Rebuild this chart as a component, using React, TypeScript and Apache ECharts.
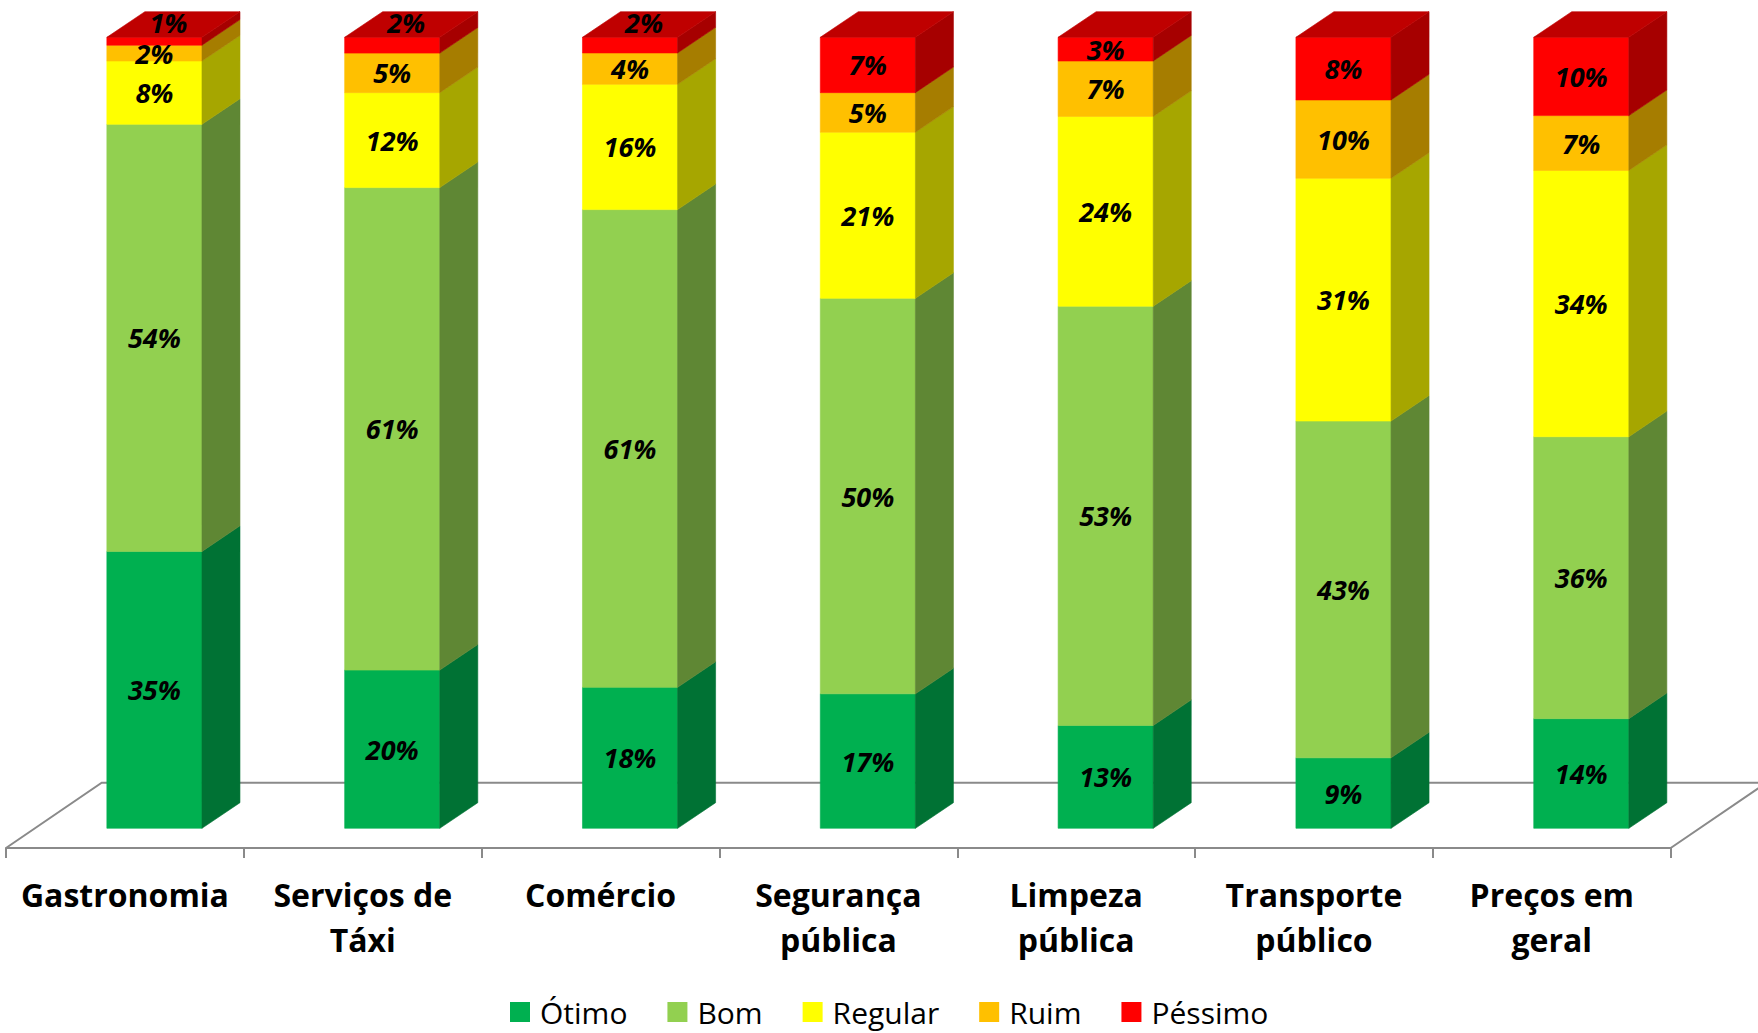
import React, { useEffect, useRef } from "react";
import * as echarts from "echarts";

const CATEGORIES = [
  "Gastronomia",
  "Serviços de\nTáxi",
  "Comércio",
  "Segurança\npública",
  "Limpeza\npública",
  "Transporte\npúblico",
  "Preços em\ngeral",
];

const SERIES_NAMES = ["Ótimo", "Bom", "Regular", "Ruim", "Péssimo"];
const OTIMO = [35, 20, 18, 17, 13, 9, 14];
const BOM = [54, 61, 61, 50, 53, 43, 36];
const REGULAR = [8, 12, 16, 21, 24, 31, 34];
const RUIM = [2, 5, 4, 5, 7, 10, 7];
const PESSIMO = [1, 2, 2, 7, 3, 8, 10];
const SERIES_VALUES = [OTIMO, BOM, REGULAR, RUIM, PESSIMO];
const COLORS = ["#00B050", "#92D050", "#FFFF00", "#FFC000", "#FF0000"];

// styling constants
const BAR_RATIO = 0.4;
const DX = 38;
const DY = -25.6;
const FLOOR_DX = 95.7;
const FLOOR_DY = -65.3;
const AXIS_GRAY = "#8a8a8a";
const FONT = "'Open Sans', 'DejaVu Sans', sans-serif";

function shade(hex: string, k: number): string {
  const n = parseInt(hex.slice(1), 16);
  const r = Math.round(((n >> 16) & 255) * k);
  const g = Math.round(((n >> 8) & 255) * k);
  const b = Math.round((n & 255) * k);
  return `rgb(${r},${g},${b})`;
}

export default function App() {
  const ref = useRef<HTMLDivElement>(null);

  useEffect(() => {
    if (!ref.current) return;
    const chart = echarts.init(ref.current, undefined, { renderer: "svg" });

    const totals = CATEGORIES.map((_, i) =>
      SERIES_VALUES.reduce((s, arr) => s + arr[i], 0)
    );
    const cum = CATEGORIES.map(() => 0);

    const barSeries = SERIES_VALUES.map((arr, sIdx) => {
      const data = arr.map((v, i) => {
        const lo = cum[i] / totals[i];
        cum[i] += v;
        const hi = cum[i] / totals[i];
        return [i, lo, hi, v, sIdx === SERIES_VALUES.length - 1 ? 1 : 0];
      });
      const front = COLORS[sIdx];
      const side = shade(front, 0.65);
      const top = shade(front, 0.75);
      return {
        type: "custom",
        name: SERIES_NAMES[sIdx],
        xAxisIndex: 0,
        yAxisIndex: 0,
        z: 2,
        clip: false,
        silent: true,
        itemStyle: { color: front },
        encode: { x: 0, y: 2 },
        data,
        renderItem: (params: any, api: any) => {
          const cat = api.value(0);
          const lo = api.value(1);
          const hi = api.value(2);
          const raw = api.value(3);
          const isTop = api.value(4) === 1;
          const pLo = api.coord([cat, lo]);
          const pHi = api.coord([cat, hi]);
          const bw = api.size([1, 0])[0] * BAR_RATIO;
          const xl = pLo[0] - bw / 2;
          const xr = pLo[0] + bw / 2;
          const yb = pLo[1];
          const yt = pHi[1];
          const children: any[] = [
            {
              type: "rect",
              shape: { x: xl, y: yt, width: bw, height: yb - yt },
              style: { fill: front, stroke: front, lineWidth: 0.6 },
            },
            {
              type: "polygon",
              shape: {
                points: [
                  [xr, yb],
                  [xr + DX, yb + DY],
                  [xr + DX, yt + DY],
                  [xr, yt],
                ],
              },
              style: { fill: side, stroke: side, lineWidth: 0.6 },
            },
          ];
          if (isTop) {
            children.push({
              type: "polygon",
              shape: {
                points: [
                  [xl, yt],
                  [xl + DX, yt + DY],
                  [xr + DX, yt + DY],
                  [xr, yt],
                ],
              },
              style: { fill: top, stroke: top, lineWidth: 0.6 },
            });
          }
          let lx = pLo[0];
          let ly = (yb + yt) / 2;
          if (isTop && yb - yt < 20) {
            lx = pLo[0] + 14;
            ly = yt + DY / 2 - 2;
          }
          children.push({
            type: "text",
            x: lx,
            y: ly,
            z2: 100,
            style: {
              text: raw + "%",
              fill: "#000",
              fontFamily: FONT,
              fontSize: 27,
              fontWeight: "bold",
              fontStyle: "italic",
              align: "center",
              verticalAlign: "middle",
            },
          });
          return { type: "group", children };
        },
      };
    });

    const floorSeries = {
      type: "custom",
      name: "floor",
      xAxisIndex: 1,
      yAxisIndex: 1,
      z: 1,
      clip: false,
      silent: true,
      data: [[0, 0]],
      renderItem: (params: any, api: any) => {
        const w = api.size([1, 0])[0];
        const p0 = api.coord([0, 0]);
        const x0 = p0[0] - w / 2;
        const x1 = x0 + w * CATEGORIES.length;
        const y = p0[1];
        return {
          type: "polyline",
          shape: {
            points: [
              [x0, y],
              [x0 + FLOOR_DX, y + FLOOR_DY],
              [x1 + FLOOR_DX, y + FLOOR_DY],
              [x1, y],
            ],
          },
          style: { stroke: AXIS_GRAY, lineWidth: 2, fill: "none" },
        };
      },
    };

    chart.setOption({
      animation: false,
      backgroundColor: "#ffffff",
      grid: [
        { left: 35.5, width: 1664.7, top: 37.3, bottom: 1033 - 828.3 },
        { left: 6, width: 1664.7, top: 100, bottom: 1033 - 848 },
      ],
      xAxis: [
        { type: "category", gridIndex: 0, data: CATEGORIES, show: false },
        {
          type: "category",
          gridIndex: 1,
          data: CATEGORIES,
          axisLine: { show: true, lineStyle: { color: AXIS_GRAY, width: 2 } },
          axisTick: {
            show: true,
            length: 10,
            lineStyle: { color: AXIS_GRAY, width: 2 },
          },
          axisLabel: {
            interval: 0,
            margin: 24,
            color: "#000",
            fontFamily: FONT,
            fontSize: 32,
            fontWeight: "bold",
            lineHeight: 45,
          },
        },
      ],
      yAxis: [
        { type: "value", gridIndex: 0, min: 0, max: 1, show: false },
        { type: "value", gridIndex: 1, min: 0, max: 1, show: false },
      ],
      legend: {
        left: 505,
        top: 991,
        itemWidth: 20,
        itemHeight: 20,
        itemGap: 40,
        icon: "rect",
        selectedMode: false,
        textStyle: {
          color: "#000",
          fontFamily: FONT,
          fontSize: 30,
          lineHeight: 32,
          padding: [0, 0, 0, 5],
        },
        data: SERIES_NAMES.map((n, i) => ({
          name: n,
          itemStyle: { color: COLORS[i] },
        })),
      },
      series: [floorSeries, ...barSeries],
    });

    return () => chart.dispose();
  }, []);

  return (
    <div
      ref={ref}
      style={{
        position: "absolute",
        left: 0,
        top: 0,
        width: 1758,
        height: 1033,
        background: "#fff",
      }}
    />
  );
}
